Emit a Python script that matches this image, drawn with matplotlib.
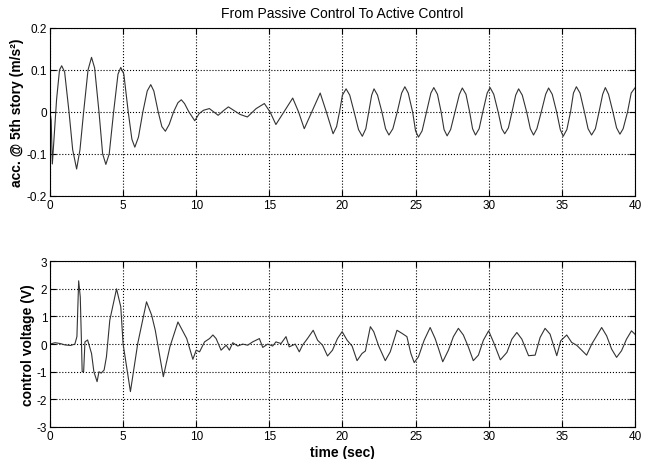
import matplotlib
matplotlib.use("Agg")
import matplotlib.pyplot as plt

plt.rcParams["font.family"] = ["Liberation Sans", "DejaVu Sans"]
plt.rcParams["axes.unicode_minus"] = False

# top: acceleration at 5th story (m/s^2)
acc_t = [0.0, 0.08, 0.16, 0.30, 0.45, 0.65, 0.80, 1.00, 1.30, 1.55, 1.82, 2.05,
         2.30, 2.60, 2.84, 3.05, 3.35, 3.60, 3.82, 4.05, 4.35, 4.65, 4.84, 5.05,
         5.35, 5.60, 5.80, 6.05, 6.35, 6.65, 6.89, 7.10, 7.40, 7.65, 7.89, 8.15,
         8.45, 8.75, 8.98, 9.20, 9.50, 9.90, 10.2, 10.5, 10.9, 11.5, 11.9, 12.2,
         12.6, 13.0, 13.5, 14.1, 14.66, 15.05, 15.45, 16.0, 16.6, 17.0, 17.39,
         17.9, 18.48, 18.9, 19.36, 19.6, 19.8, 20.0, 20.25, 20.5, 20.8, 21.1,
         21.36, 21.6, 21.8, 22.0, 22.16, 22.4, 22.7, 22.95, 23.18, 23.45, 23.75,
         24.05, 24.27, 24.5, 24.8, 25.0, 25.2, 25.45, 25.75, 26.05, 26.25, 26.5,
         26.75, 26.95, 27.16, 27.4, 27.7, 28.0, 28.2, 28.45, 28.7, 28.9, 29.1,
         29.35, 29.6, 29.9, 30.1, 30.35, 30.65, 30.9, 31.1, 31.35, 31.6, 31.85,
         32.05, 32.3, 32.6, 32.85, 33.07, 33.3, 33.6, 33.9, 34.1, 34.35, 34.65,
         34.9, 35.1, 35.35, 35.6, 35.8, 36.0, 36.25, 36.55, 36.8, 37.04, 37.3,
         37.55, 37.8, 37.98, 38.2, 38.5, 38.75, 38.98, 39.2, 39.5, 39.75, 40.0]
acc_v = [0.0, -0.02, -0.124, -0.05, 0.03, 0.10, 0.110, 0.095, 0.0, -0.09, -0.136, -0.09,
         0.0, 0.10, 0.130, 0.105, 0.0, -0.10, -0.125, -0.10, 0.0, 0.09, 0.106, 0.09,
         0.0, -0.065, -0.084, -0.06, 0.0, 0.05, 0.065, 0.05, 0.0, -0.035, -0.046, -0.03,
         0.0, 0.022, 0.029, 0.02, 0.0, -0.021, -0.004, 0.004, 0.008, -0.008, 0.004, 0.012,
         0.003, -0.006, -0.012, 0.008, 0.020, 0.0, -0.030, 0.0, 0.033, 0.0, -0.040,
         0.0, 0.045, 0.0, -0.052, -0.035, 0.0, 0.04, 0.055, 0.04, 0.0, -0.042,
         -0.058, -0.04, 0.0, 0.04, 0.055, 0.04, 0.0, -0.04, -0.055, -0.04, 0.0,
         0.045, 0.060, 0.045, 0.0, -0.045, -0.060, -0.045, 0.0, 0.045, 0.058, 0.042,
         0.0, -0.042, -0.057, -0.042, 0.0, 0.042, 0.057, 0.042, 0.0, -0.04, -0.055,
         -0.04, 0.0, 0.045, 0.058, 0.042, 0.0, -0.04, -0.052, -0.038, 0.0, 0.04,
         0.055, 0.04, 0.0, -0.04, -0.055, -0.04, 0.0, 0.042, 0.057, 0.042, 0.0,
         -0.042, -0.058, -0.042, 0.0, 0.045, 0.060, 0.045, 0.0, -0.04, -0.055, -0.04,
         0.0, 0.042, 0.058, 0.042, 0.0, -0.038, -0.053, -0.04, 0.0, 0.045, 0.057]

# bottom: control voltage (V)
volt_t = [0.0, 0.34, 0.7, 1.02, 1.4, 1.7, 1.84, 1.96, 2.07, 2.14, 2.2, 2.3,
          2.39, 2.57, 2.84, 3.0, 3.22, 3.35, 3.5, 3.7, 3.86, 4.09, 4.55, 4.84,
          5.0, 5.5, 6.0, 6.6, 6.95, 7.2, 7.75, 8.2, 8.75, 9.05, 9.35, 9.77,
          10.0, 10.23, 10.57, 10.91, 11.14, 11.36, 11.7, 12.05, 12.27, 12.5, 12.84,
          13.18, 13.52, 13.86, 14.32, 14.55, 14.89, 15.23, 15.45, 15.8, 16.14,
          16.36, 16.77, 17.05, 17.27, 17.61, 18.0, 18.3, 18.64, 18.98, 19.32,
          19.66, 19.98, 20.32, 20.66, 21.0, 21.34, 21.57, 21.91, 22.14, 22.48,
          22.93, 23.27, 23.73, 24.07, 24.41, 24.68, 24.91, 25.2, 25.59, 26.0,
          26.34, 26.57, 26.86, 27.25, 27.59, 27.93, 28.27, 28.61, 28.95, 29.3,
          29.64, 30.0, 30.34, 30.8, 31.25, 31.59, 31.93, 32.27, 32.73, 33.18,
          33.52, 33.86, 34.2, 34.66, 34.93, 35.34, 35.68, 36.02, 36.7, 37.05,
          37.39, 37.73, 38.07, 38.41, 38.75, 39.09, 39.43, 39.77, 40.0]
volt_v = [0.0, 0.05, 0.02, -0.03, -0.05, 0.0, 0.27, 2.29, 1.7, 0.3, -1.0, -1.0,
          0.08, 0.15, -0.34, -1.0, -1.36, -1.0, -1.05, -0.94, -0.46, 0.87, 2.0, 1.35,
          0.0, -1.72, 0.02, 1.53, 1.05, 0.5, -1.18, -0.1, 0.8, 0.5, 0.2, -0.55,
          -0.22, -0.28, 0.08, 0.2, 0.33, 0.2, -0.22, -0.04, -0.22, 0.05, -0.07,
          0.0, -0.04, 0.08, 0.2, -0.12, 0.0, -0.07, 0.08, 0.02, 0.27,
          -0.1, 0.0, -0.28, -0.04, 0.2, 0.5, 0.14, -0.04, -0.43, -0.22,
          0.2, 0.45, 0.14, -0.07, -0.6, -0.34, -0.25, 0.63, 0.45, -0.07,
          -0.6, -0.28, 0.5, 0.39, 0.27, -0.34, -0.67, -0.46, 0.14, 0.6,
          0.2, -0.16, -0.64, -0.22, 0.27, 0.57, 0.33, -0.1, -0.6, -0.4,
          0.14, 0.48, 0.06, -0.57, -0.3, 0.18, 0.42, 0.18, -0.42, -0.4,
          0.24, 0.57, 0.36, -0.42, 0.12, 0.33, 0.06, -0.04, -0.4, 0.0,
          0.3, 0.6, 0.3, -0.18, -0.48, -0.24, 0.18, 0.48, 0.36]

x_ticks = [0, 5, 10, 15, 20, 25, 30, 35, 40]
acc_ticks = [-0.2, -0.1, 0, 0.1, 0.2]
acc_ticklabels = ["-0.2", "-0.1", "0", "0.1", "0.2"]
volt_ticks = [-3, -2, -1, 0, 1, 2, 3]


def style_axes(ax):
    ax.set_xlim(0, 40)
    ax.set_xticks(x_ticks)
    ax.tick_params(direction="in", top=True, right=True, length=4,
                   width=0.8, labelsize=8.5, pad=2)
    ax.grid(True, linestyle=":", color="black", linewidth=0.8)
    for s in ax.spines.values():
        s.set_linewidth(0.8)


fig = plt.figure(figsize=(6.52, 4.6), dpi=100)
ax1 = fig.add_axes([0.0767, 0.572, 0.897, 0.365])
ax2 = fig.add_axes([0.0767, 0.0696, 0.897, 0.3604])

ax1.plot(acc_t, acc_v, color="#333333", lw=0.8)
style_axes(ax1)
ax1.set_ylim(-0.2, 0.2)
ax1.set_yticks(acc_ticks)
ax1.set_yticklabels(acc_ticklabels)
ax1.set_ylabel("acc. @ 5th story (m/s²)", fontsize=10, fontweight="bold",
               labelpad=2)
ax1.set_title("From Passive Control To Active Control", fontsize=10, pad=8)

ax2.plot(volt_t, volt_v, color="#333333", lw=0.8)
style_axes(ax2)
ax2.set_ylim(-3, 3)
ax2.set_yticks(volt_ticks)
ax2.set_ylabel("control voltage (V)", fontsize=10, fontweight="bold",
               labelpad=1)
ax2.set_xlabel("time (sec)", fontsize=10, fontweight="bold", labelpad=2)

fig.savefig("out.png", dpi=100)
